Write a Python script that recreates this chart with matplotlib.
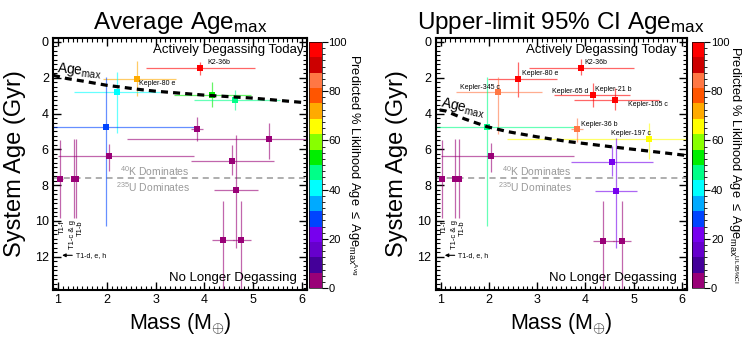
import numpy as np
import matplotlib
matplotlib.use("Agg")
import matplotlib.pyplot as plt
from matplotlib.colors import ListedColormap, BoundaryNorm
from matplotlib.cm import ScalarMappable
from matplotlib.ticker import MultipleLocator

plt.rcParams["font.family"] = ["Liberation Sans", "DejaVu Sans"]
plt.rcParams["mathtext.fontset"] = "custom"
plt.rcParams["mathtext.rm"] = "Liberation Sans"
plt.rcParams["mathtext.it"] = "Liberation Sans:italic"
plt.rcParams["mathtext.bf"] = "Liberation Sans:bold"

# ---------------------------------------------------------------------------
# data
# ---------------------------------------------------------------------------
# left panel: average Age_max
avg_mass    = [3.91, 2.61, 2.21, 1.99, 3.85, 2.05, 5.32, 4.56, 4.64, 4.37, 4.75, 4.15, 4.62, 1.04, 1.32, 1.38]
avg_age     = [1.43, 2.05, 2.79, 4.75, 4.86, 6.39, 5.44, 6.66, 8.28, 11.08, 11.08, 2.94, 3.22, 7.65, 7.65, 7.65]
avg_mass_lo = [2.81, 1.92, 1.32, 0.50, 3.72, 1.00, 2.42, 3.72, 4.20, 4.15, 4.58, 3.37, 3.78, 0.98, 1.28, 1.34]
avg_mass_hi = [5.03, 3.41, 3.10, 3.82, 3.98, 3.78, 7.00, 5.42, 5.10, 4.60, 4.96, 4.96, 5.54, 1.10, 1.36, 1.42]
avg_age_lo  = [1.12, 1.06, 1.69, 1.95, 4.20, 5.68, 4.50, 5.77, 5.20, 8.90, 8.90, 2.23, 2.66, 5.45, 5.40, 5.40]
avg_age_hi  = [1.86, 3.02, 5.10, 10.3, 5.55, 7.20, 6.52, 7.45, 11.5, 14.5, 14.5, 3.63, 3.82, 9.85, 9.85, 9.85]
avg_pct     = [97, 72, 40, 28, 3, 3, 3, 3, 3, 3, 3, 53, 47, 3, 3, 3]

avg_curve_mass = [0.90, 1.18, 1.50, 2.00, 2.69, 3.00, 4.00, 4.96, 6.10]
avg_curve_age  = [1.86, 2.04, 2.18, 2.42, 2.66, 2.75, 2.97, 3.13, 3.40]

# right panel: upper-limit 95% CI Age_max
ul_mass    = [2.61, 2.20, 1.96, 2.05, 5.31, 3.91, 4.15, 4.61, 3.83, 4.55, 4.64, 4.37, 4.75, 1.03, 1.30, 1.38]
ul_age     = [2.07, 2.81, 4.73, 6.37, 5.44, 1.43, 2.96, 3.24, 4.86, 6.69, 8.31, 11.10, 11.10, 7.65, 7.65, 7.65]
ul_mass_lo = [1.98, 1.31, 0.50, 1.00, 2.38, 2.83, 3.35, 3.76, 3.70, 3.71, 4.20, 4.15, 4.58, 0.98, 1.26, 1.34]
ul_mass_hi = [3.42, 3.11, 3.76, 3.76, 7.00, 5.00, 4.93, 5.53, 3.96, 5.40, 5.08, 4.60, 4.94, 1.08, 1.34, 1.42]
ul_age_lo  = [1.10, 1.94, 1.94, 5.63, 4.50, 0.97, 2.31, 2.59, 4.26, 5.80, 5.35, 8.90, 8.90, 5.45, 5.40, 5.40]
ul_age_hi  = [3.05, 5.14, 10.3, 7.25, 6.54, 1.84, 3.65, 3.80, 5.57, 7.50, 11.5, 14.5, 14.5, 9.85, 9.85, 9.85]
ul_pct     = [96, 84, 47, 3, 65, 97, 96, 96, 84, 22, 22, 3, 3, 3, 3, 3]

ul_curve_mass = [0.98, 1.10, 1.50, 1.96, 2.39, 3.00, 3.66, 4.62, 6.00, 6.10]
ul_curve_age  = [3.80, 3.85, 4.30, 4.73, 5.01, 5.30, 5.57, 5.88, 6.31, 6.35]

k_u_crossover = 7.6   # Gyr

# 16-step palette, low -> high
palette = ["#990077", "#440099", "#6600cc", "#7700ee", "#0044ff", "#00aaff",
           "#00ffff", "#00ff88", "#00ee00", "#88ff00", "#ffff00", "#ffaa00",
           "#ff5500", "#ff7744", "#cc0000", "#ff0000"]
cmap = ListedColormap(palette)
norm = BoundaryNorm(np.linspace(0, 100, 17), cmap.N)


def draw_panel(ax, cax, mass, age, mlo, mhi, alo, ahi, pct,
               cmass, cage, title, cbar_label, cbar_x, ylab_x, age_lbl, today_x):
    for x, y, x0, x1, y0, y1, v in zip(mass, age, mlo, mhi, alo, ahi, pct):
        c = cmap(norm(v))
        ax.errorbar(x, y, xerr=[[x - x0], [x1 - x]], yerr=[[y - y0], [y1 - y]],
                    fmt="none", ecolor=c, elinewidth=0.9, alpha=0.6,
                    capsize=0, zorder=2)
        ax.plot(x, y, "s", color=c, markersize=4.5, markeredgewidth=0, zorder=3)

    ax.plot(cmass, cage, color="black", lw=2.3, ls=(0, (2.2, 1.6)), zorder=4)
    ax.text(age_lbl[0], age_lbl[1], r"Age$_{\mathrm{max}}$", fontsize=10,
            rotation=age_lbl[2], rotation_mode="anchor", ha="left", va="baseline")

    ax.axhline(k_u_crossover, color="#999999", lw=1.1, ls=(0, (4, 3)), zorder=1)
    ax.text(2.28, 7.22, r"$^{40}$K Dominates", color="#999999", fontsize=7.5,
            va="center", ha="left")
    ax.text(2.19, 8.12, r"$^{235}$U Dominates", color="#999999", fontsize=7.5,
            va="center", ha="left")

    ax.text(today_x, 0.45, "Actively Degassing Today", fontsize=9.5,
            ha="right", va="center")
    ax.text(5.9, 13.2, "No Longer Degassing", fontsize=9.5, ha="right", va="center")

    # TRAPPIST-1 annotations
    for tx, lbl in [(1.08, "T1-f"), (1.29, "T1-c & g"), (1.45, "T1-b")]:
        ax.text(tx, 9.95, lbl, rotation=90, fontsize=5.5, ha="center", va="top")
    ax.annotate("", xy=(1.03, 11.92), xytext=(1.35, 11.92),
                arrowprops=dict(arrowstyle="-|>", color="black", lw=0.8,
                                mutation_scale=5))
    ax.text(1.36, 11.92, "T1-d, e, h", fontsize=5, ha="left", va="center")

    ax.set_xlim(0.9, 6.1)
    ax.set_ylim(13.85, -0.25)
    ax.xaxis.set_major_locator(MultipleLocator(1))
    ax.xaxis.set_minor_locator(MultipleLocator(0.1))
    ax.yaxis.set_major_locator(MultipleLocator(2))
    ax.yaxis.set_minor_locator(MultipleLocator(0.25))
    ax.tick_params(which="both", direction="in", top=True, right=True,
                   labelsize=9, pad=3)
    ax.tick_params(which="major", length=6, width=1.0)
    ax.tick_params(which="minor", length=3, width=0.8)
    for s in ax.spines.values():
        s.set_linewidth(1.5)

    ax.set_title(title, fontsize=17.5, pad=6)
    ax.set_xlabel(r"Mass (M$_{\oplus}$)", fontsize=15.5, labelpad=4)
    ax.set_ylabel("System Age (Gyr)", fontsize=17)
    ax.yaxis.set_label_coords(ylab_x, 0.5)

    cb = plt.colorbar(ScalarMappable(norm=norm, cmap=cmap), cax=cax,
                      ticks=[0, 20, 40, 60, 80, 100])
    cb.outline.set_linewidth(0.5)
    cax.yaxis.set_minor_locator(MultipleLocator(2.5))
    cax.tick_params(which="major", labelsize=8, length=4, width=0.8, pad=1)
    cax.tick_params(which="minor", length=2, width=0.6)
    cax.text(cbar_x, 0.5, cbar_label, transform=cax.transAxes, rotation=270,
             rotation_mode="anchor", ha="center", va="center", fontsize=9.3)


fig = plt.figure(figsize=(7.47, 3.41), dpi=100)
ax1 = fig.add_axes([0.071, 0.150, 0.340, 0.740])
cax1 = fig.add_axes([0.4137, 0.155, 0.0167, 0.722])
ax2 = fig.add_axes([0.5833, 0.150, 0.336, 0.740])
cax2 = fig.add_axes([0.9268, 0.155, 0.0157, 0.722])

draw_panel(ax1, cax1, avg_mass, avg_age, avg_mass_lo, avg_mass_hi,
           avg_age_lo, avg_age_hi, avg_pct, avg_curve_mass, avg_curve_age,
           r"Average Age$_{\mathrm{max}}$",
           r"Predicted % Liklihood Age $\leq$ Age$_{\mathrm{max}^{\mathrm{Avg}}}$",
           3.6, -0.105, (0.97, 1.68, -6), 6.02)
draw_panel(ax2, cax2, ul_mass, ul_age, ul_mass_lo, ul_mass_hi,
           ul_age_lo, ul_age_hi, ul_pct, ul_curve_mass, ul_curve_age,
           r"Upper-limit 95% CI Age$_{\mathrm{max}}$",
           r"Predicted % Liklihood Age $\leq$ Age$_{\mathrm{max}^{\mathrm{UL95\%CI}}}$",
           3.65, -0.11, (1.0, 3.6, -13), 5.88)

# planet labels
ax1.text(4.07, 1.15, "K2-36b", fontsize=5, va="center")
ax1.text(2.66, 2.33, "Kepler-80 e", fontsize=5, va="center")

ax2.text(3.98, 1.14, "K2-36b", fontsize=5, va="center")
ax2.text(2.68, 1.75, "Kepler-80 e", fontsize=5, va="center")
ax2.text(1.41, 2.55, "Kepler-345 c", fontsize=5, va="center")
ax2.text(3.69, 2.74, "Kepler-65 d", fontsize=5, va="center", ha="center")
ax2.text(4.21, 2.64, "Kepler-21 b", fontsize=5, va="center")
ax2.text(4.88, 3.52, "Kepler-105 c", fontsize=5, va="center")
ax2.text(3.92, 4.60, "Kepler-36 b", fontsize=5, va="center")
ax2.text(4.53, 5.10, "Kepler-197 c", fontsize=5, va="center")

fig.savefig("out.png", dpi=100)
